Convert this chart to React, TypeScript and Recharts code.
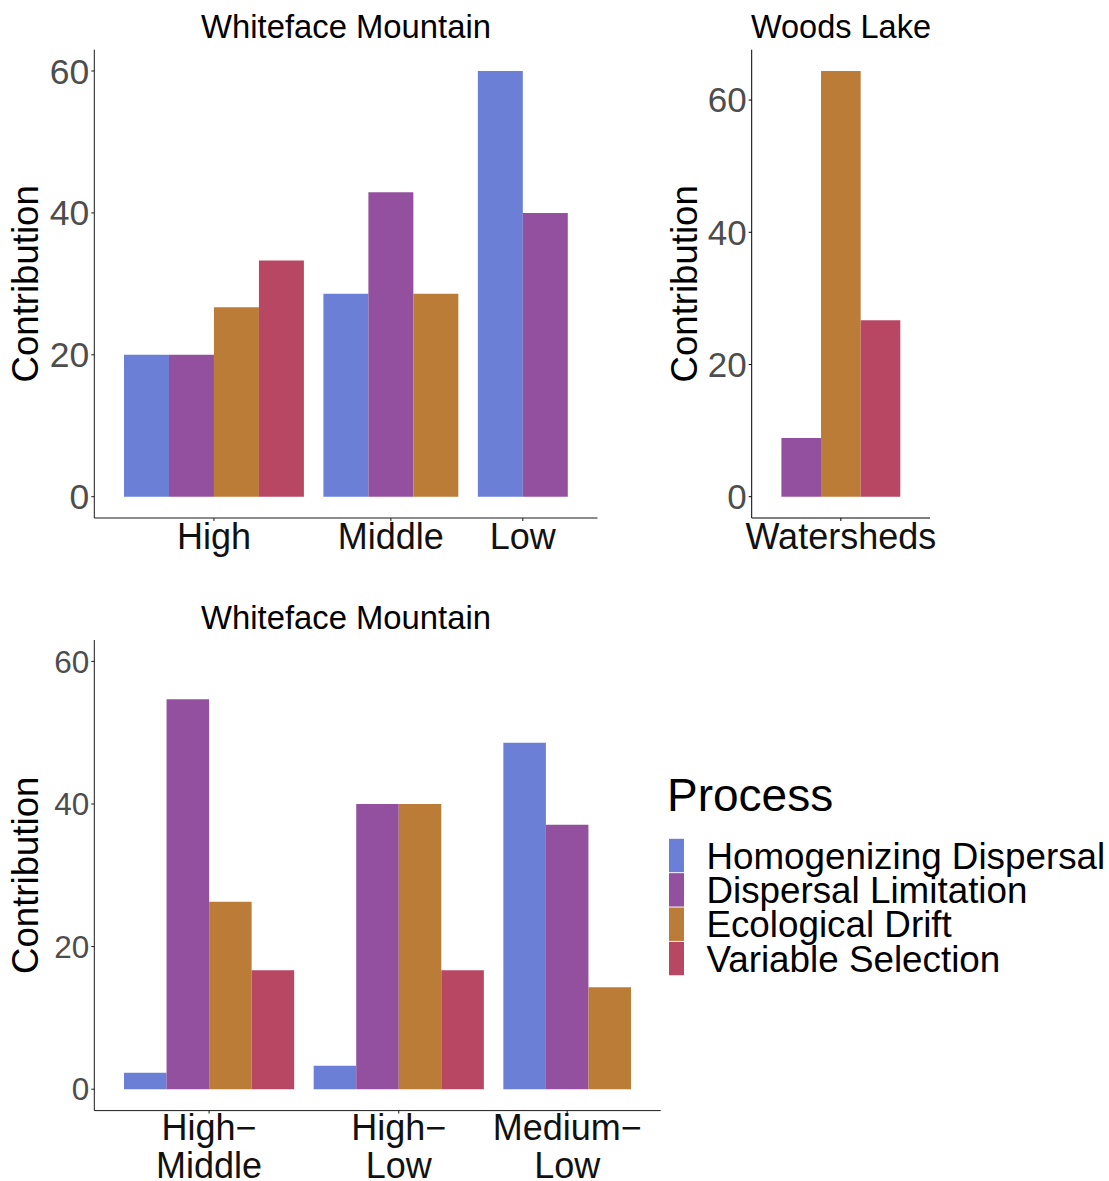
import React from "react";
import { BarChart, Bar, XAxis, YAxis, Cell } from "recharts";

// ---- Data ----
const PROCESSES = [
  "Homogenizing Dispersal",
  "Dispersal Limitation",
  "Ecological Drift",
  "Variable Selection",
];
const PROCESS_COLORS = ["#6A7FD5", "#93509E", "#BB7C38", "#B84763"];

// Whiteface Mountain, by elevation zone
const ZONES = ["High", "Middle", "Low"];
const ZONE_HOMOGENIZING = [20, 28.6, 60];
const ZONE_LIMITATION = [20, 42.9, 40];
const ZONE_DRIFT = [26.7, 28.6, null];
const ZONE_SELECTION = [33.3, null, null];

// Woods Lake
const LAKE_GROUPS = ["Watersheds"];
const LAKE_HOMOGENIZING = [null];
const LAKE_LIMITATION = [8.9];
const LAKE_DRIFT = [64.4];
const LAKE_SELECTION = [26.7];

// Whiteface Mountain, between elevation zones
const ZONE_PAIRS = ["High\u2212\nMiddle", "High\u2212\nLow", "Medium\u2212\nLow"];
const PAIR_HOMOGENIZING = [2.3, 3.3, 48.6];
const PAIR_LIMITATION = [54.7, 40, 37.1];
const PAIR_DRIFT = [26.3, 40, 14.3];
const PAIR_SELECTION = [16.7, 16.7, null];

const Y_TICKS = [0, 20, 40, 60];

// ---- Styling / layout ----
const FONT = "'Liberation Sans', Arial, Helvetica, sans-serif";
const PAD_PX = 29.7; // space between axis and outer bars
const GAP_PX = 19.5; // space between neighbouring groups

type Row = { pos: number; value: number; process: number };
type Panel = {
  rows: Row[];
  tickPos: number[];
  tickLabels: string[];
  domain: [number, number];
  barPx: number;
};

// Places present bars side by side, one bar-width per unit, groups separated by a gap.
function buildPanel(
  groups: string[],
  series: (number | null)[][],
  plotWidth: number
): Panel {
  const present = groups.map((_, gi) =>
    series
      .map((s, pi) => ({ pi, v: s[gi] }))
      .filter((b) => b.v !== null && b.v !== undefined)
  );
  const nBars = present.reduce((a, g) => a + g.length, 0);
  const barPx = (plotWidth - 2 * PAD_PX - (groups.length - 1) * GAP_PX) / nBars;
  const pad = PAD_PX / barPx;
  const gap = GAP_PX / barPx;
  const rows: Row[] = [];
  const tickPos: number[] = [];
  let cursor = 0;
  present.forEach((g, gi) => {
    if (gi > 0) cursor += gap;
    const start = cursor;
    g.forEach((b) => {
      rows.push({ pos: cursor + 0.5, value: b.v as number, process: b.pi });
      cursor += 1;
    });
    tickPos.push((start + cursor) / 2);
  });
  return { rows, tickPos, tickLabels: groups, domain: [-pad, cursor + pad], barPx };
}

const AxisTitle = (props: any) => {
  const vb = props.viewBox || { x: 0, y: 0, width: 0, height: 0 };
  const cx = vb.x + props.baseline;
  const cy = vb.y + vb.height / 2;
  return (
    <text
      x={cx}
      y={cy}
      transform={`rotate(-90, ${cx}, ${cy})`}
      textAnchor="middle"
      fontSize={36.6}
      fill="#000"
      fontFamily={FONT}
    >
      Contribution
    </text>
  );
};

const MultiLineTick = (props: any) => {
  const { x, y, index, labels } = props;
  const lines: string[] = (labels[index] || "").split("\n");
  return (
    <text x={x} y={y} textAnchor="middle" fontSize={36} fill="#111" fontFamily={FONT}>
      {lines.map((l, i) => (
        <tspan key={i} x={x} dy={i === 0 ? "0.68em" : 38}>
          {l}
        </tspan>
      ))}
    </text>
  );
};

type ChartProps = {
  panel: Panel;
  width: number;
  height: number;
  yAxisWidth: number;
  margin: { top: number; right: number; bottom: number; left: number };
  xAxisHeight: number;
  yDomain: [number, number];
  yTickSize: number;
  axisColor: string;
  titleBaseline: number;
  multiLine?: boolean;
};

const ProcessBars = ({
  panel,
  width,
  height,
  yAxisWidth,
  margin,
  xAxisHeight,
  yDomain,
  yTickSize,
  axisColor,
  titleBaseline,
  multiLine,
}: ChartProps) => (
  <BarChart width={width} height={height} data={panel.rows} margin={margin}>
    <XAxis
      type="number"
      dataKey="pos"
      domain={panel.domain}
      ticks={panel.tickPos}
      tickCount={2}
      interval={0}
      height={xAxisHeight}
      axisLine={{ stroke: axisColor, strokeWidth: 1 }}
      tickLine={{ stroke: axisColor, strokeWidth: 1 }}
      tickSize={3}
      tickMargin={2}
      tick={
        multiLine ? (
          <MultiLineTick labels={panel.tickLabels} />
        ) : (
          { fontSize: 36, fill: "#111", fontFamily: FONT }
        )
      }
      tickFormatter={(_v: number, i: number) => panel.tickLabels[i]}
    />
    <YAxis
      type="number"
      domain={yDomain}
      ticks={Y_TICKS}
      interval={0}
      width={yAxisWidth}
      axisLine={{ stroke: axisColor, strokeWidth: 1 }}
      tickLine={{ stroke: axisColor, strokeWidth: 1 }}
      tickSize={3}
      tickMargin={2}
      tick={{ fontSize: yTickSize, fill: "#4D4D4D", fontFamily: FONT }}
      label={<AxisTitle baseline={titleBaseline} />}
    />
    <Bar dataKey="value" barSize={panel.barPx - 0.01} isAnimationActive={false}>
      {panel.rows.map((r, i) => (
        <Cell key={i} fill={PROCESS_COLORS[r.process]} />
      ))}
    </Bar>
  </BarChart>
);

const zonePanel = buildPanel(
  ZONES,
  [ZONE_HOMOGENIZING, ZONE_LIMITATION, ZONE_DRIFT, ZONE_SELECTION],
  597.5 - 94.3
);
const lakePanel = buildPanel(
  LAKE_GROUPS,
  [LAKE_HOMOGENIZING, LAKE_LIMITATION, LAKE_DRIFT, LAKE_SELECTION],
  930 - 751.7
);
const pairPanel = buildPanel(
  ZONE_PAIRS,
  [PAIR_HOMOGENIZING, PAIR_LIMITATION, PAIR_DRIFT, PAIR_SELECTION],
  660.7 - 94.3
);

const lakeMax = Math.max(...(LAKE_DRIFT as number[]));

export default function App() {
  return (
    <div
      style={{
        position: "absolute",
        left: 0,
        top: 0,
        width: 1109,
        height: 1181,
        background: "#fff",
        fontFamily: FONT,
        overflow: "hidden",
      }}
    >
      <div style={{ position: "absolute", left: 0, top: 0 }}>
        <ProcessBars
          panel={zonePanel}
          width={620}
          height={575}
          yAxisWidth={94.3}
          margin={{ top: 49.7, right: 22.5, bottom: 2, left: 0 }}
          xAxisHeight={55}
          yDomain={[-3, 63]}
          yTickSize={35.5}
          axisColor="#1a1a1a"
          titleBaseline={38.5}
        />
      </div>
      <div style={{ position: "absolute", left: 660, top: 0 }}>
        <ProcessBars
          panel={lakePanel}
          width={300}
          height={575}
          yAxisWidth={91.7}
          margin={{ top: 49.7, right: 30, bottom: 2, left: 0 }}
          xAxisHeight={55}
          yDomain={[-0.05 * lakeMax, 1.05 * lakeMax]}
          yTickSize={35}
          axisColor="#000"
          titleBaseline={37}
        />
      </div>
      <div style={{ position: "absolute", left: 0, top: 590 }}>
        <ProcessBars
          panel={pairPanel}
          width={700}
          height={591}
          yAxisWidth={94.3}
          margin={{ top: 50, right: 39.3, bottom: 0.4, left: 0 }}
          xAxisHeight={70}
          yDomain={[-3, 63]}
          yTickSize={31.5}
          axisColor="#1a1a1a"
          titleBaseline={38}
          multiLine
        />
      </div>
      <svg
        width={1109}
        height={1181}
        style={{ position: "absolute", left: 0, top: 0, pointerEvents: "none" }}
        fontFamily={FONT}
      >
        <text x={346} y={38.3} textAnchor="middle" fontSize={32.8} fill="#000">
          Whiteface Mountain
        </text>
        <text x={841} y={38.3} textAnchor="middle" fontSize={32.5} fill="#000">
          Woods Lake
        </text>
        <text x={346} y={628.5} textAnchor="middle" fontSize={32.8} fill="#000">
          Whiteface Mountain
        </text>
        <text x={667} y={811} fontSize={46} fill="#000">
          Process
        </text>
        {PROCESSES.map((p, i) => {
          const top = 838.3 + i * 34.35;
          return (
            <g key={p}>
              <rect x={669} y={top + 0.5} width={15} height={33.4} fill={PROCESS_COLORS[i]} />
              <text x={706.4} y={top + 17.2 + 13.1} fontSize={36.8} fill="#000">
                {p}
              </text>
            </g>
          );
        })}
      </svg>
    </div>
  );
}
